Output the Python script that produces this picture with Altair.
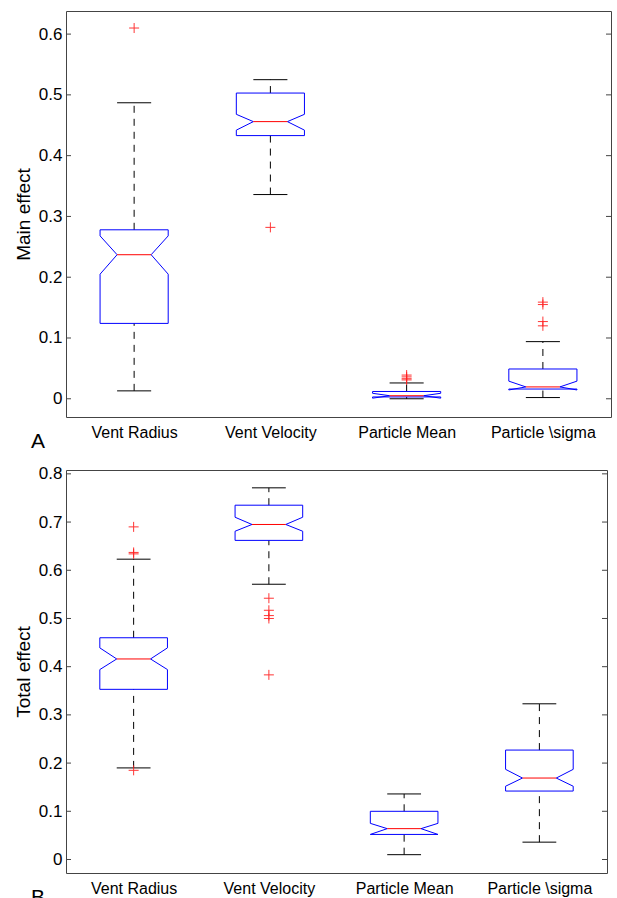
import json
import altair as alt
import pandas as pd

# ---------------- data ----------------
categories = ["Vent Radius", "Vent Velocity", "Particle Mean", "Particle \\sigma"]
positions = [1, 2, 3, 4]

# Panel A (main effect)
a_q1 = [0.124, 0.433, 0.003, 0.016]
a_med = [0.237, 0.456, 0.005, 0.0195]
a_q3 = [0.278, 0.503, 0.012, 0.049]
a_notch_lo = [0.205, 0.442, 0.001, 0.0145]
a_notch_hi = [0.268, 0.468, 0.009, 0.029]
a_whisk_lo = [0.013, 0.336, 0.0, 0.002]
a_whisk_hi = [0.487, 0.525, 0.026, 0.094]
a_out_cat = [1, 2, 3, 3, 3, 3, 4, 4, 4, 4]
a_out_val = [0.610, 0.282, 0.031, 0.033, 0.036, 0.039, 0.120, 0.127, 0.155, 0.159]
a_ticks = [0, 0.1, 0.2, 0.3, 0.4, 0.5, 0.6]

# Panel B (total effect)
b_q1 = [0.353, 0.662, 0.052, 0.142]
b_med = [0.416, 0.695, 0.064, 0.169]
b_q3 = [0.460, 0.735, 0.100, 0.227]
b_notch_lo = [0.394, 0.681, 0.052, 0.152]
b_notch_hi = [0.439, 0.710, 0.075, 0.187]
b_whisk_lo = [0.190, 0.571, 0.010, 0.036]
b_whisk_hi = [0.623, 0.771, 0.136, 0.323]
b_out_cat = [1, 1, 1, 1, 2, 2, 2, 2, 2]
b_out_val = [0.690, 0.637, 0.634, 0.185, 0.542, 0.517, 0.506, 0.500, 0.383]
b_ticks = [0, 0.1, 0.2, 0.3, 0.4, 0.5, 0.6, 0.7, 0.8]

# ---------------- style ----------------
FONT = "Liberation Sans"
FRAME = "#444444"
BOX_HALF = 0.25
NOTCH_HALF = 0.125
CAP_HALF = 0.125
TICK_LEN = 5


def outline_df(q1, med, q3, nlo, nhi):
    rows = []
    for i, p in enumerate(positions):
        xs = [p - BOX_HALF, p - BOX_HALF, p - NOTCH_HALF, p - BOX_HALF, p - BOX_HALF,
              p + BOX_HALF, p + BOX_HALF, p + NOTCH_HALF, p + BOX_HALF, p + BOX_HALF, p - BOX_HALF]
        ys = [q1[i], nlo[i], med[i], nhi[i], q3[i], q3[i], nhi[i], med[i], nlo[i], q1[i], q1[i]]
        for k, (x, y) in enumerate(zip(xs, ys)):
            rows.append({"box": i, "order": k, "x": x, "y": y})
    return pd.DataFrame(rows)


def stats_df(q1, med, q3, wlo, whi):
    return pd.DataFrame({
        "pos": positions,
        "q1": q1, "med": med, "q3": q3, "wlo": wlo, "whi": whi,
        "cl": [p - CAP_HALF for p in positions],
        "cr": [p + CAP_HALF for p in positions],
        "ml": [p - NOTCH_HALF for p in positions],
        "mr": [p + NOTCH_HALF for p in positions],
    })


label_expr = json.dumps(categories) + "[datum.value - 1]"


def panel(q1, med, q3, nlo, nhi, wlo, whi, out_cat, out_val, ticks, ydomain, ytitle, tag, W, H):
    xs = alt.Scale(domain=[0.5, 4.5], nice=False, zero=False)
    ys = alt.Scale(domain=ydomain, nice=False, zero=False)
    xax = alt.Axis(values=positions, labelExpr=label_expr, ticks=False, domain=False, grid=False,
                   title=None, labelFontSize=16, labelPadding=7, labelColor="black", labelFont=FONT,
                   labelFlush=False)
    yax = alt.Axis(values=ticks, format="~g", ticks=False, domain=False, grid=False,
                   title=ytitle, titleFontSize=19, titleFontWeight="normal", titleColor="black",
                   titleFont=FONT, titlePadding=5, labelFontSize=17, labelPadding=4,
                   labelColor="black", labelFont=FONT)

    def X(f):
        return alt.X(f, type="quantitative", scale=xs, axis=xax)

    def Y(f):
        return alt.Y(f, type="quantitative", scale=ys, axis=yax)

    st = stats_df(q1, med, q3, wlo, whi)
    ol = outline_df(q1, med, q3, nlo, nhi)
    out = pd.DataFrame({"pos": out_cat, "v": out_val})
    tk = pd.DataFrame({"t": ticks})

    outline = alt.Chart(ol).mark_line(color="#0000ff", strokeWidth=1).encode(
        x=X("x"), y=Y("y"), detail="box:N", order="order:Q")
    w_up = alt.Chart(st).mark_rule(color="#000000", strokeDash=[7, 6], strokeWidth=1).encode(
        x=X("pos"), y=Y("q3"), y2="whi")
    w_dn = alt.Chart(st).mark_rule(color="#000000", strokeDash=[7, 6], strokeWidth=1).encode(
        x=X("pos"), y=Y("wlo"), y2="q1")
    cap_up = alt.Chart(st).mark_rule(color="#000000", strokeWidth=1).encode(
        x=X("cl"), x2="cr", y=Y("whi"))
    cap_dn = alt.Chart(st).mark_rule(color="#000000", strokeWidth=1).encode(
        x=X("cl"), x2="cr", y=Y("wlo"))
    median = alt.Chart(st).mark_rule(color="#ff0000", strokeWidth=1).encode(
        x=X("ml"), x2="mr", y=Y("med"))
    outliers = alt.Chart(out).mark_point(shape="M-1,0L1,0M0,-1L0,1", size=100, filled=False,
                                         color="#ff2020", strokeWidth=1, opacity=0.9).encode(
        x=X("pos"), y=Y("v"))
    tick_l = alt.Chart(tk).mark_rule(color=FRAME, strokeWidth=1).encode(
        y=Y("t"), x=alt.value(0), x2=alt.value(TICK_LEN))
    tick_r = alt.Chart(tk).mark_rule(color=FRAME, strokeWidth=1).encode(
        y=Y("t"), x=alt.value(W - TICK_LEN), x2=alt.value(W))
    tag_txt = alt.Chart(pd.DataFrame({"tag": [tag]})).mark_text(
        font=FONT, fontSize=21, align="center", baseline="alphabetic", color="black").encode(
        text="tag:N", x=alt.value(-28), y=alt.value(H + 31))

    return alt.layer(tick_l, tick_r, w_up, w_dn, cap_up, cap_dn, outline, median, outliers,
                     tag_txt).properties(width=W, height=H)


pA = panel(a_q1, a_med, a_q3, a_notch_lo, a_notch_hi, a_whisk_lo, a_whisk_hi,
           a_out_cat, a_out_val, a_ticks, [-0.030, 0.638], "Main effect", "A", 545, 406)
pB = panel(b_q1, b_med, b_q3, b_notch_lo, b_notch_hi, b_whisk_lo, b_whisk_hi,
           b_out_cat, b_out_val, b_ticks, [-0.028, 0.808], "Total effect", "B", 541, 403)

chart = alt.vconcat(pA, pB, spacing=53, bounds="flush").properties(
    padding={"left": 13, "top": 10, "right": 0, "bottom": 0},
    background="white",
).configure_view(stroke=FRAME, strokeWidth=1)

chart.save("out.html", embed_options={"renderer": "svg", "actions": False})
